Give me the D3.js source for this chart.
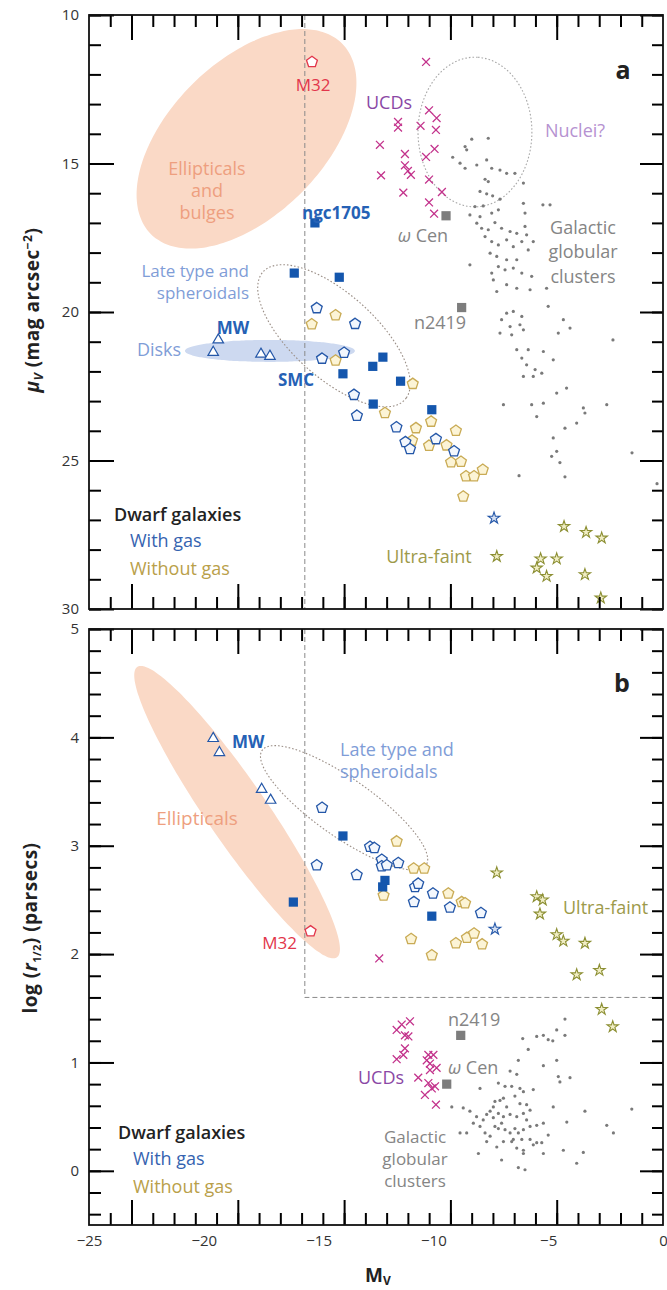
<!DOCTYPE html>
<html>
<head>
<meta charset="utf-8">
<script src="https://cdn.jsdelivr.net/npm/d3@7"></script>
<style>
    body { margin: 0; background: #fff; overflow: hidden; }
    svg { display: block; }
    svg text { font-family: "Open Sans", "Noto Sans", sans-serif; }
</style>
</head>
<body>
<div id="chart"></div>
<script>

/*
 * Data: [Mv, muV] for panel a, [Mv, log r_half] for panel b
 */

// panel a
const aWithGas = [[-15.08,19.87],[-13.41,20.40],[-13.89,21.37],[-14.85,21.57],[-13.46,22.79],[-13.33,23.49],
    [-11.61,23.88],[-11.22,24.38],[-11.02,24.61],[-9.89,24.28],[-9.10,24.69]];
const aWithoutGas = [[-15.30,20.41],[-14.26,20.11],[-14.26,21.63],[-10.90,22.42],[-12.11,23.40],[-10.10,23.69],
    [-10.76,23.91],[-9.02,24.00],[-10.19,24.50],[-9.43,24.49],[-9.23,25.06],[-8.80,25.04],[-8.58,25.53],
    [-8.23,25.53],[-7.85,25.31],[-8.70,26.21],[-10.93,24.33]];
const aGasSquares = [[-15.16,17.00],[-16.06,18.69],[-14.10,18.83],[-12.20,21.52],[-12.64,21.83],[-13.94,22.08],
    [-11.43,22.33],[-12.62,23.10],[-10.07,23.29]];
const aDisks = [[-19.37,20.94],[-19.59,21.36],[-17.51,21.42],[-17.12,21.49]];
const aM32 = [[-15.29,11.58]];
const aUCDs = [[-10.32,11.58],[-10.19,13.21],[-9.86,13.47],[-11.54,13.60],[-11.54,13.79],[-10.56,13.73],
    [-9.89,13.87],[-12.33,14.37],[-11.24,14.68],[-9.95,14.51],[-10.32,14.78],[-11.24,15.06],[-11.11,15.25],
    [-10.98,15.38],[-12.28,15.40],[-10.19,15.54],[-11.31,15.98],[-9.63,15.96],[-10.19,16.31],[-9.97,16.69]];
const aNamedGCs = [[-9.45,16.76],[-8.77,19.85]];   // omega Cen, NGC 2419
const aUltraFaint = [[-7.24,28.23],[-4.31,27.22],[-3.35,27.42],[-2.67,27.61],[-5.33,28.31],[-4.63,28.31],
    [-5.50,28.62],[-5.07,28.90],[-3.40,28.84],[-2.71,29.63]];
const aUltraFaintGas = [[-7.36,26.94]];
const aGCs = [[-7.61,14.15],[-8.33,14.18],[-8.62,14.43],[-8.55,14.54],[-9.16,14.79],[-8.84,14.99],[-8.62,15.16],
    [-8.11,15.05],[-7.68,14.88],[-7.46,15.16],[-7.10,15.22],[-6.81,15.33],[-6.45,15.33],[-7.75,15.53],
    [-7.61,15.61],[-7.97,15.94],[-7.68,16.02],[-7.42,16.09],[-7.10,16.20],[-8.19,16.45],[-7.83,16.43],
    [-8.41,16.73],[-7.97,16.79],[-7.46,16.67],[-7.17,16.56],[-6.08,15.66],[-6.08,16.34],[-6.01,16.67],
    [-4.92,16.39],[-5.23,16.39],[-8.11,17.01],[-7.90,17.18],[-7.61,17.23],[-7.32,16.99],[-7.03,17.18],
    [-6.66,17.29],[-6.37,17.35],[-6.01,17.12],[-5.94,17.40],[-5.65,17.63],[-7.75,17.46],[-7.46,17.63],
    [-7.17,17.74],[-6.81,17.57],[-6.52,17.80],[-6.15,17.63],[-5.87,17.91],[-7.53,18.02],[-7.24,18.13],
    [-6.81,18.24],[-6.37,18.24],[-7.17,18.47],[-6.88,18.58],[-6.52,18.52],[-6.15,18.69],[-5.72,18.80],
    [-7.46,18.69],[-7.39,18.92],[-7.24,19.31],[-6.81,19.08],[-6.37,19.20],[-5.79,19.25],[-5.07,19.20],
    [-8.41,18.41],[-6.81,20.04],[-6.52,19.98],[-6.15,20.15],[-7.03,20.26],[-6.66,20.49],[-6.23,20.43],
    [-7.10,20.71],[-6.59,20.77],[-6.08,20.60],[-5.00,19.81],[-4.34,20.26],[-4.56,20.71],[-4.05,20.54],
    [-6.37,21.27],[-5.87,21.27],[-5.21,21.33],[-6.15,21.55],[-5.94,21.78],[-5.57,21.94],[-4.78,21.61],
    [-6.08,22.17],[-5.65,22.17],[-5.28,22.06],[-6.95,23.12],[-5.72,23.12],[-5.21,23.07],[-4.63,22.73],
    [-4.20,22.56],[-3.47,23.23],[-2.45,23.12],[-5.50,23.52],[-4.78,24.24],[-4.63,24.69],[-4.27,23.91],
    [-3.76,23.74],[-3.40,23.40],[-4.85,24.86],[-2.18,20.94],[-1.35,24.74],[-6.27,25.51],[-4.27,25.55],
    [-4.49,25.07],[-0.26,25.78]];
const aCutLine = [[-15.6,10],[-15.6,30]];

// panel b
const bWithGas = [[-14.85,3.35],[-15.08,2.82],[-13.34,2.73],[-12.76,2.99],[-12.57,2.98],[-12.25,2.87],[-12.25,2.81],
    [-12.03,2.82],[-11.53,2.84],[-10.80,2.62],[-10.66,2.65],[-10.85,2.48],[-10.02,2.56],[-9.28,2.43],[-7.93,2.38]];
const bWithoutGas = [[-11.60,3.04],[-10.86,2.79],[-10.40,2.79],[-12.17,2.54],[-9.35,2.56],[-8.77,2.48],[-8.62,2.47],
    [-10.97,2.14],[-10.07,1.99],[-9.02,2.10],[-8.54,2.15],[-8.23,2.19],[-7.88,2.09]];
const bGasSquares = [[-13.94,3.09],[-16.10,2.48],[-12.11,2.68],[-12.21,2.62],[-10.07,2.35]];
const bDisks = [[-19.59,3.99],[-19.32,3.86],[-17.48,3.52],[-17.09,3.42]];
const bM32 = [[-15.35,2.21]];
const bUCDs = [[-11.02,1.38],[-11.38,1.35],[-11.60,1.30],[-11.24,1.25],[-11.09,1.24],[-11.24,1.13],[-11.31,1.07],
    [-11.60,1.03],[-10.22,1.07],[-10.00,1.07],[-10.29,1.02],[-10.15,0.99],[-10.15,0.93],[-9.86,0.95],[-10.66,0.86],
    [-10.22,0.81],[-9.93,0.78],[-10.37,0.70],[-9.89,0.61],[-10.07,0.76],[-12.36,1.96]];
const bNamedGCs = [[-9.42,0.80],[-8.81,1.25]];
const bUltraFaint = [[-7.24,2.75],[-5.50,2.53],[-5.24,2.50],[-5.36,2.37],[-4.63,2.18],[-4.34,2.12],[-3.40,2.10],
    [-3.76,1.81],[-2.77,1.85],[-2.67,1.49],[-2.19,1.33]];
const bUltraFaintGas = [[-7.32,2.23]];
const bGCs = [[-4.27,1.40],[-6.11,1.22],[-5.50,1.24],[-5.21,1.25],[-5.00,1.21],[-4.80,1.20],[-4.63,1.30],[-4.27,1.25],
    [-5.87,1.12],[-6.30,1.02],[-5.21,0.97],[-4.63,1.02],[-6.66,0.92],[-6.37,0.89],[-4.56,0.87],[-4.49,0.82],
    [-4.05,0.86],[-7.97,0.76],[-7.17,0.81],[-6.88,0.78],[-6.59,0.78],[-6.23,0.76],[-6.08,0.73],[-5.65,0.75],
    [-9.20,0.59],[-8.70,0.58],[-8.41,0.55],[-8.12,0.50],[-7.83,0.47],[-7.68,0.52],[-7.39,0.59],[-7.32,0.64],
    [-7.10,0.65],[-6.95,0.67],[-6.81,0.59],[-6.45,0.69],[-6.23,0.62],[-5.94,0.61],[-5.79,0.56],[-7.53,0.55],
    [-7.39,0.49],[-7.17,0.53],[-6.95,0.50],[-6.66,0.52],[-6.37,0.50],[-6.08,0.53],[-4.78,0.59],[-3.40,0.55],
    [-1.36,0.57],[-4.19,0.45],[-2.45,0.42],[-2.16,0.35],[-8.84,0.35],[-8.55,0.35],[-7.97,0.41],[-7.75,0.35],
    [-7.53,0.32],[-7.32,0.41],[-7.17,0.39],[-7.03,0.44],[-6.88,0.38],[-6.66,0.35],[-6.45,0.39],[-6.30,0.35],
    [-6.08,0.38],[-5.79,0.41],[-5.50,0.42],[-5.21,0.44],[-6.95,0.27],[-6.52,0.29],[-6.15,0.29],[-5.79,0.29],
    [-5.28,0.26],[-5.00,0.33],[-7.24,0.22],[-6.37,0.21],[-6.08,0.19],[-5.65,0.24],[-8.04,0.16],[-7.68,0.27],
    [-7.03,0.10],[-6.08,0.16],[-5.21,0.16],[-4.34,0.19],[-3.76,0.07],[-3.47,0.17],[-6.30,0.03],[-6.01,0.01],
    [-5.50,0.26],[-5.94,0.47],[-8.26,0.44],[-6.59,0.27]];
const bCutLine = [[-15.6,5],[-15.6,1.6],[0,1.6]];

// regions: centre, end of one half-axis, end of the other half-axis (data units)
const aEllipticals = {c: [-18.14,14.17], u: [-13.98,10.96], v: [-15.77,16.00]};
const aDiskBand = {c: [-17.12,21.31], u: [-13.42,21.31], v: [-17.12,20.94]};
const aLateType = {c: [-14.33,20.80], u: [-11.24,22.95], v: [-13.11,19.75]};
const aNuclei = {c: [-8.19,13.94], u: [-8.19,11.42], v: [-5.71,13.94]};
const bEllipticals = {c: [-18.55,3.31], u: [-14.20,1.97], v: [-17.48,3.47]};
const bLateType = {c: [-13.89,3.35], u: [-10.32,2.82], v: [-13.17,3.57]};

// axis ticks
const xTickLabels = [-25, -20, -15, -10, -5, 0];
const aYMajor = [10, 15, 20, 25, 30];
const bYMajor = [0, 1, 2, 3, 4, 5];


// pentagon marker (not in d3's symbol set)
const symbolPentagon = {
    draw(context, size) {
        const r = Math.sqrt(size / 2.378);
        for (let i = 0; i < 5; i++) {
            const a = -Math.PI / 2 + i * 2 * Math.PI / 5;
            if (i === 0) context.moveTo(r * Math.cos(a), r * Math.sin(a));
            else context.lineTo(r * Math.cos(a), r * Math.sin(a));
        }
        context.closePath();
    }
};

const colors = {
    blue: "#2457a8", blueFill: "#f3f7fd", tan: "#c9ab55", tanFill: "#fcf4d6",
    square: "#1456ad", red: "#e2364b", ucd: "#c3338c", gc: "#7a7a7a", named: "#7d7d7d",
    olive: "#8c8f33", oliveFill: "#f1eec4", peach: "#fad9c6", disk: "#cdd9f0"
};

const W = 667, H = 1290;
const svg = d3.select("#chart").append("svg")
    .attr("width", W)
    .attr("height", H);


class ScalingPanel {

    constructor(parent, config) {
        this.parent = parent;
        this.config = config;
        this.initVis();
    }

    initVis() {
        let vis = this;

        vis.margin = {top: vis.config.top, left: 89};
        vis.width = 574;
        vis.height = vis.config.height;

        vis.svg = vis.parent.append("g")
            .attr("transform", `translate(${vis.margin.left},${vis.margin.top})`);

        // Scales
        vis.x = d3.scaleLinear().domain([-25, 0]).range([0, vis.width]);
        vis.y = d3.scaleLinear().domain(vis.config.yDomain).range([0, vis.height]);
        // the printed tick marks run on their own spacing (27 intervals across)
        vis.tickX = d3.scaleLinear().domain([0, 27]).range([0, vis.width]);

        vis.updateVis();
    }

    ellipsePath(reg) {
        let vis = this;
        const pts = d3.range(0, 360, 3).map(t => {
            const a = t * Math.PI / 180;
            const mx = reg.c[0] + (reg.u[0] - reg.c[0]) * Math.cos(a) + (reg.v[0] - reg.c[0]) * Math.sin(a);
            const my = reg.c[1] + (reg.u[1] - reg.c[1]) * Math.cos(a) + (reg.v[1] - reg.c[1]) * Math.sin(a);
            return [vis.x(mx), vis.y(my)];
        });
        return d3.line().curve(d3.curveCardinalClosed)(pts);
    }

    drawSymbols(data, type, size, fill, stroke, sw) {
        let vis = this;
        vis.svg.append("g")
            .selectAll("path")
            .data(data)
            .join("path")
            .attr("transform", d => `translate(${vis.x(d[0])},${vis.y(d[1])})`)
            .attr("d", d3.symbol().type(type).size(size))
            .attr("fill", fill)
            .attr("stroke", stroke)
            .attr("stroke-width", sw);
    }

    updateVis() {
        let vis = this;
        let c = vis.config;

        // shaded regions
        c.fills.forEach(f => {
            vis.svg.append("path")
                .attr("d", vis.ellipsePath(f.reg))
                .attr("fill", f.color);
        });

        // magnitude cut (dashed)
        vis.svg.append("path")
            .attr("d", d3.line().x(d => vis.x(d[0])).y(d => vis.y(d[1]))(c.cut))
            .attr("fill", "none")
            .attr("stroke", "#8a8a8a")
            .attr("stroke-width", 1)
            .attr("stroke-dasharray", "5,3");

        // dotted outlines
        c.outlines.forEach(o => {
            vis.svg.append("path")
                .attr("d", vis.ellipsePath(o.reg))
                .attr("fill", "none")
                .attr("stroke", o.color)
                .attr("stroke-width", 1.1)
                .attr("stroke-dasharray", "1.6,2");
        });

        // globular clusters
        vis.svg.append("g")
            .selectAll("circle")
            .data(c.gcs)
            .join("circle")
            .attr("cx", d => vis.x(d[0]))
            .attr("cy", d => vis.y(d[1]))
            .attr("r", 1.6)
            .attr("fill", colors.gc);

        vis.drawSymbols(c.ucds, d3.symbolTimes, 42, "none", colors.ucd, 1.3);
        vis.drawSymbols(c.named, d3.symbolSquare, 85, colors.named, "none", 0);
        vis.drawSymbols(c.disks, d3.symbolTriangle, 48, "#fff", colors.blue, 1.2);
        vis.drawSymbols(c.withoutGas, symbolPentagon, 78, colors.tanFill, colors.tan, 1.3);
        vis.drawSymbols(c.withGas, symbolPentagon, 78, colors.blueFill, colors.blue, 1.3);
        vis.drawSymbols(c.squares, d3.symbolSquare, 85, colors.square, "none", 0);
        vis.drawSymbols(c.m32, symbolPentagon, 78, "#fff", colors.red, 1.3);
        vis.drawSymbols(c.ultraFaint, d3.symbolStar, 40, colors.oliveFill, colors.olive, 1.1);
        vis.drawSymbols(c.ultraFaintGas, d3.symbolStar, 42, "#d5e0f3", colors.blue, 1.1);

        // Axes: inward minor / major ticks on all four sides
        const tickStyle = g => {
            g.select(".domain").remove();
            g.selectAll("line").attr("stroke", "#000").attr("stroke-width", 2);
            g.selectAll("text").attr("fill", "#333").attr("font-size", 15);
        };
        const yMinor = d3.range(c.yMinor[0], c.yMinor[1] + 1).map(i => i * c.yMinor[2]);
        const xMinor = d3.range(1, 27);
        const xMajor = [2, 7, 12, 17, 22];

        vis.svg.append("g")
            .call(d3.axisLeft(vis.y).tickValues(yMinor).tickSize(-12).tickFormat(""))
            .call(tickStyle);
        vis.svg.append("g")
            .call(d3.axisLeft(vis.y).tickValues(c.yMajor).tickSize(-25).tickPadding(10).tickFormat(d3.format("d")))
            .call(tickStyle);
        vis.svg.append("g").attr("transform", `translate(${vis.width},0)`)
            .call(d3.axisRight(vis.y).tickValues(yMinor).tickSize(-11).tickFormat(""))
            .call(tickStyle);
        vis.svg.append("g").attr("transform", `translate(${vis.width},0)`)
            .call(d3.axisRight(vis.y).tickValues(c.yMajor).tickSize(-23).tickFormat(""))
            .call(tickStyle);
        vis.svg.append("g")
            .call(d3.axisTop(vis.tickX).tickValues(xMinor).tickSize(-12).tickFormat(""))
            .call(tickStyle);
        vis.svg.append("g")
            .call(d3.axisTop(vis.tickX).tickValues(xMajor).tickSize(-25).tickFormat(""))
            .call(tickStyle);
        vis.svg.append("g").attr("transform", `translate(0,${vis.height})`)
            .call(d3.axisBottom(vis.tickX).tickValues(xMinor).tickSize(-12).tickFormat(""))
            .call(tickStyle);
        vis.svg.append("g").attr("transform", `translate(0,${vis.height})`)
            .call(d3.axisBottom(vis.tickX).tickValues(xMajor).tickSize(-25).tickFormat(""))
            .call(tickStyle);

        if (c.xLabels) {
            vis.svg.append("g").attr("transform", `translate(0,${vis.height})`)
                .call(d3.axisBottom(vis.x).tickValues(xTickLabels).tickSize(0).tickPadding(10)
                    .tickFormat(d3.format("d")))
                .call(tickStyle);
        }

        // frame
        vis.svg.append("rect")
            .attr("width", vis.width)
            .attr("height", vis.height)
            .attr("fill", "none")
            .attr("stroke", "#111")
            .attr("stroke-width", 1.8);
    }
}


new ScalingPanel(svg, {
    top: 15, height: 594, yDomain: [10, 30], yMajor: aYMajor, yMinor: [10, 30, 1],
    fills: [{reg: aEllipticals, color: colors.peach}, {reg: aDiskBand, color: colors.disk}],
    outlines: [{reg: aLateType, color: "#9a8e86"}, {reg: aNuclei, color: "#a8a8a8"}],
    cut: aCutLine, gcs: aGCs, ucds: aUCDs, named: aNamedGCs, disks: aDisks,
    withGas: aWithGas, withoutGas: aWithoutGas, squares: aGasSquares, m32: aM32,
    ultraFaint: aUltraFaint, ultraFaintGas: aUltraFaintGas, xLabels: false
});

new ScalingPanel(svg, {
    top: 629, height: 596, yDomain: [5, -0.5], yMajor: bYMajor, yMinor: [-2, 25, 0.2],
    fills: [{reg: bEllipticals, color: colors.peach}],
    outlines: [{reg: bLateType, color: "#9a8e86"}],
    cut: bCutLine, gcs: bGCs, ucds: bUCDs, named: bNamedGCs, disks: bDisks,
    withGas: bWithGas, withoutGas: bWithoutGas, squares: bGasSquares, m32: bM32,
    ultraFaint: bUltraFaint, ultraFaintGas: bUltraFaintGas, xLabels: true
});


// Annotations (page coordinates)
const txt = {
    lightBlue: "#7f9dd7", salmon: "#ee9f7f", purple: "#8a47a5", nuclei: "#b692d1",
    gray: "#858585", olive: "#9d9a4a", noGas: "#b9a04a", darkBlue: "#2561b5", red: "#e2364b"
};

const notes = [
    {t: "a", x: 623, y: 79, size: 25, weight: 700, color: "#222"},
    {t: "M32", x: 313, y: 91, color: txt.red, size: 17},
    {t: "ngc1705", x: 302, y: 219, color: txt.darkBlue, weight: 700, anchor: "start", size: 17},
    {t: "UCDs", x: 389, y: 109, color: txt.purple},
    {t: "Nuclei?", x: 575, y: 137, color: txt.nuclei},
    {t: "Ellipticals", x: 207, y: 175, color: txt.salmon},
    {t: "and", x: 207, y: 197, color: txt.salmon},
    {t: "bulges", x: 207, y: 219, color: txt.salmon},
    {parts: [{t: "ω", italic: true}, {t: " Cen"}], x: 423, y: 242, color: txt.gray},
    {t: "Galactic", x: 583, y: 234, color: txt.gray},
    {t: "globular", x: 583, y: 258, color: txt.gray},
    {t: "clusters", x: 583, y: 283, color: txt.gray},
    {t: "n2419", x: 440, y: 329, color: txt.gray},
    {t: "Late type and", x: 249, y: 277, color: txt.lightBlue, anchor: "end", size: 17},
    {t: "spheroidals", x: 249, y: 299, color: txt.lightBlue, anchor: "end", size: 17},
    {t: "MW", x: 233, y: 334, color: txt.darkBlue, weight: 700, size: 17},
    {t: "Disks", x: 159, y: 356, color: txt.lightBlue},
    {t: "SMC", x: 296, y: 386, color: txt.darkBlue, weight: 700, size: 17},
    {t: "Dwarf galaxies", x: 114, y: 521, color: "#222", weight: 600, anchor: "start"},
    {t: "With gas", x: 130, y: 547, color: "#3563b0", anchor: "start"},
    {t: "Without gas", x: 130, y: 575, color: txt.noGas, anchor: "start"},
    {t: "Ultra-faint", x: 429, y: 563, color: txt.olive},

    {t: "b", x: 622, y: 692, size: 25, weight: 700, color: "#222"},
    {t: "MW", x: 232, y: 748, color: txt.darkBlue, weight: 700, anchor: "start", size: 17},
    {t: "Ellipticals", x: 197, y: 825, color: txt.salmon, size: 19},
    {t: "M32", x: 297, y: 949, color: txt.red, anchor: "end", size: 17},
    {t: "Late type and", x: 340, y: 756, color: txt.lightBlue, anchor: "start"},
    {t: "spheroidals", x: 340, y: 778, color: txt.lightBlue, anchor: "start"},
    {t: "Ultra-faint", x: 563, y: 914, color: txt.olive, anchor: "start"},
    {t: "n2419", x: 448, y: 1026, color: txt.gray, anchor: "start"},
    {parts: [{t: "ω", italic: true}, {t: " Cen"}], x: 448, y: 1074, color: txt.gray, anchor: "start"},
    {t: "UCDs", x: 381, y: 1084, color: txt.purple},
    {t: "Galactic", x: 415, y: 1143, color: txt.gray, size: 17},
    {t: "globular", x: 415, y: 1165, color: txt.gray, size: 17},
    {t: "clusters", x: 415, y: 1187, color: txt.gray, size: 17},
    {t: "Dwarf galaxies", x: 118, y: 1139, color: "#222", weight: 600, anchor: "start"},
    {t: "With gas", x: 133, y: 1165, color: "#3563b0", anchor: "start"},
    {t: "Without gas", x: 133, y: 1193, color: txt.noGas, anchor: "start"}
];

notes.forEach(n => {
    const el = svg.append("text")
        .attr("x", n.x)
        .attr("y", n.y)
        .attr("text-anchor", n.anchor || "middle")
        .attr("font-size", n.size || 18)
        .attr("font-weight", n.weight || 400)
        .attr("fill", n.color);
    if (n.parts) {
        n.parts.forEach(p => el.append("tspan").attr("font-style", p.italic ? "italic" : null).text(p.t));
    } else {
        el.text(n.t);
    }
});

// axis titles
const xTitle = svg.append("text")
    .attr("x", 365).attr("y", 1282)
    .attr("font-size", 19).attr("font-weight", 700).attr("fill", "#222");
xTitle.append("tspan").text("M");
xTitle.append("tspan").attr("font-size", 12).attr("dy", 3).text("V");

const yTitleA = svg.append("text")
    .attr("transform", "translate(39,310) rotate(-90)")
    .attr("text-anchor", "middle")
    .attr("letter-spacing", 0.5)
    .attr("font-size", 19).attr("font-weight", 700).attr("fill", "#222");
yTitleA.append("tspan").attr("font-style", "italic").text("μ");
yTitleA.append("tspan").attr("font-size", 12).attr("font-style", "italic").attr("dy", 4).text("V");
yTitleA.append("tspan").attr("dy", -4).text(" (mag arcsec");
yTitleA.append("tspan").attr("font-size", 12).attr("dy", -7).text("−2");
yTitleA.append("tspan").attr("dy", 7).text(")");

const yTitleB = svg.append("text")
    .attr("transform", "translate(37,928) rotate(-90)")
    .attr("text-anchor", "middle")
    .attr("letter-spacing", 0.5)
    .attr("font-size", 19).attr("font-weight", 700).attr("fill", "#222");
yTitleB.append("tspan").text("log (");
yTitleB.append("tspan").attr("font-style", "italic").text("r");
yTitleB.append("tspan").attr("font-size", 11).attr("dy", 4).text("1/2");
yTitleB.append("tspan").attr("dy", -4).text(") (parsecs)");

</script>
</body>
</html>
